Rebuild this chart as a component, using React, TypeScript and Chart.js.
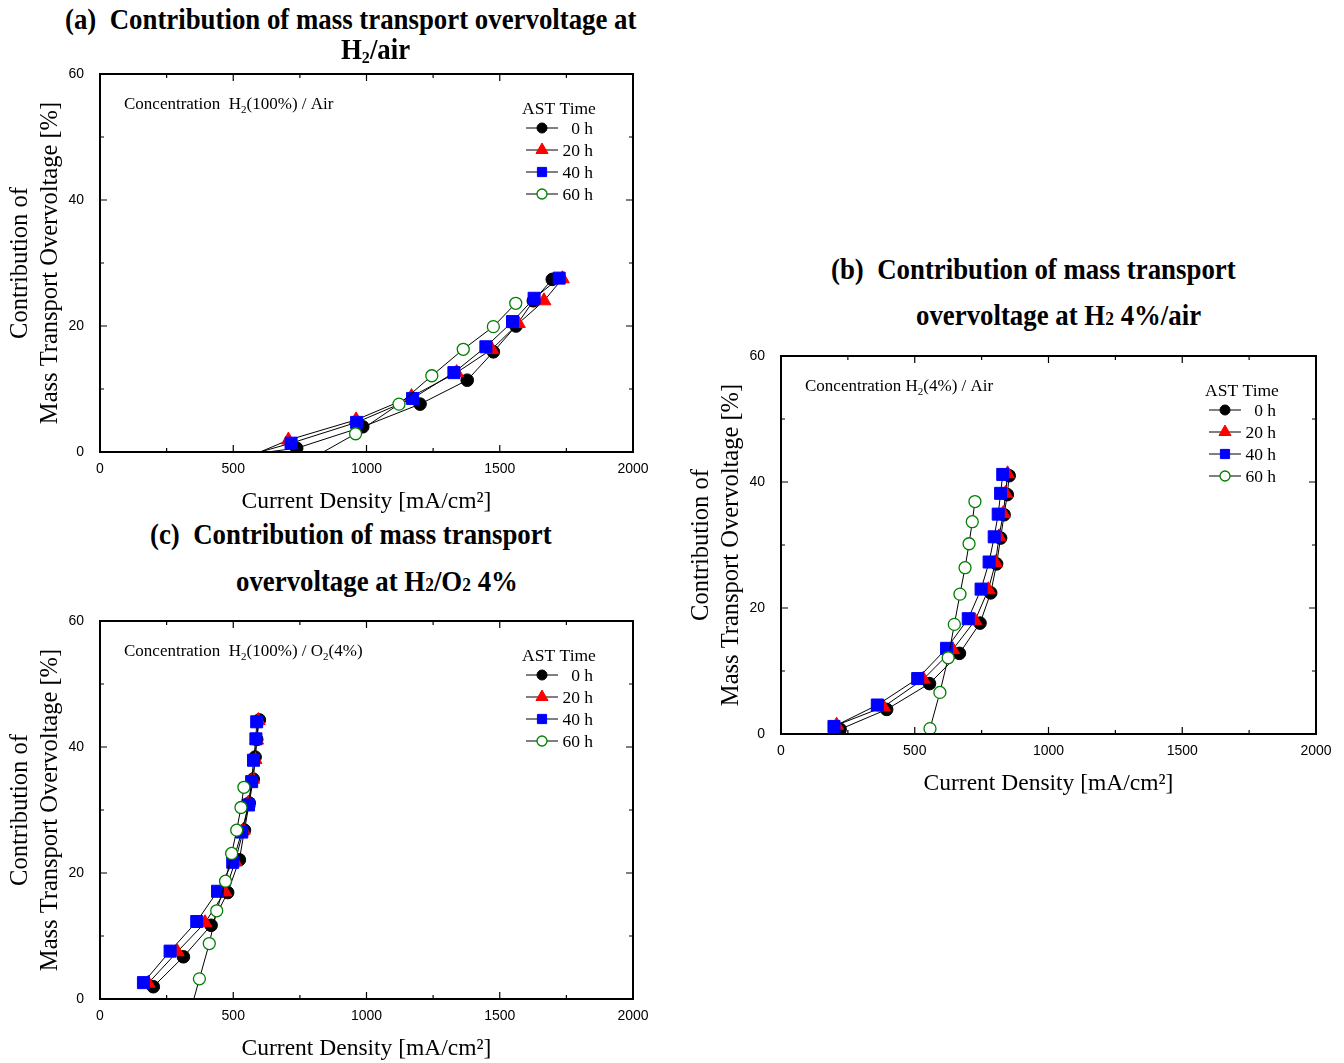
import React, { useEffect, useRef } from 'react';
import { Chart, registerables } from 'chart.js';
import { drawPoint } from 'chart.js/helpers';

Chart.register(...registerables);

// ---------- tick labels ----------
const X_TICKS = [0, 500, 1000, 1500, 2000];
const Y_TICKS = [0, 20, 40, 60];

// ---------- series names ----------
const SERIES_LABELS = ['0 h', '20 h', '40 h', '60 h'];

// ---------- panel (a): H2(100%) / Air ----------
const A_0H_X = [500, 738, 986, 1201, 1378, 1476, 1561, 1626, 1697];
const A_0H_Y = [-0.7, 0.6, 4.0, 7.6, 11.4, 15.9, 20.0, 24.0, 27.4];
const A_20H_X = [500, 707, 961, 1169, 1338, 1470, 1570, 1666, 1735];
const A_20H_Y = [-1.8, 1.9, 5.1, 8.8, 12.6, 16.3, 20.4, 24.0, 27.5];
const A_40H_X = [500, 717, 963, 1173, 1328, 1448, 1548, 1629, 1723];
const A_40H_Y = [-1.2, 1.4, 4.7, 8.5, 12.6, 16.7, 20.7, 24.4, 27.6];
const A_60H_X = [750, 959, 1122, 1245, 1363, 1476, 1560];
const A_60H_Y = [-2.1, 2.9, 7.6, 12.1, 16.3, 19.9, 23.6];

// ---------- panel (b): H2(4%) / Air ----------
const B_0H_X = [221, 395, 555, 667, 744, 784, 806, 821, 834, 846, 853];
const B_0H_Y = [0.75, 3.9, 8.0, 12.8, 17.6, 22.4, 27.0, 31.1, 34.8, 38.0, 41.0];
const B_20H_X = [208, 383, 532, 642, 725, 775, 802, 815, 831, 840, 847];
const B_20H_Y = [1.4, 4.3, 8.7, 13.4, 18.0, 22.9, 27.2, 31.3, 35.0, 38.2, 41.3];
const B_40H_X = [198, 360, 511, 619, 700, 748, 778, 797, 812, 821, 829];
const B_40H_Y = [1.2, 4.6, 8.8, 13.6, 18.3, 23.0, 27.3, 31.3, 34.9, 38.2, 41.2];
const B_60H_X = [545, 557, 594, 625, 648, 669, 688, 703, 715, 725];
const B_60H_Y = [-1.0, 0.85, 6.6, 12.1, 17.4, 22.2, 26.4, 30.2, 33.7, 36.9];

// ---------- panel (c): H2(100%) / O2(4%) ----------
const C_0H_X = [200, 313, 417, 479, 523, 542, 560, 575, 582, 588, 598];
const C_0H_Y = [1.95, 6.7, 11.7, 16.9, 22.1, 26.8, 31.1, 34.9, 38.4, 41.2, 44.3];
const C_20H_X = [181, 290, 394, 469, 507, 538, 557, 573, 582, 588, 594];
const C_20H_Y = [2.5, 7.5, 12.1, 17.0, 21.8, 26.8, 31.1, 34.9, 38.0, 41.1, 44.2];
const C_40H_X = [163, 263, 363, 441, 498, 532, 557, 569, 576, 585, 588];
const C_40H_Y = [2.6, 7.6, 12.3, 17.1, 21.7, 26.5, 30.8, 34.5, 37.9, 41.3, 44.0];
const C_60H_X = [339, 373, 410, 438, 471, 494, 513, 529, 540];
const C_60H_Y = [-2.0, 3.2, 8.8, 14.0, 18.7, 23.1, 26.8, 30.4, 33.6];

// ---------- marker styles ----------
const MARKERS = [
  { pointStyle: 'circle', radius: 6.3, legendRadius: 5, bg: '#000000', border: '#000000', bw: 1 },
  { pointStyle: 'triangle', radius: 8, legendRadius: 7, bg: '#ff0000', border: '#ff0000', bw: 1 },
  { pointStyle: 'rect', radius: 8.5, legendRadius: 6.5, bg: '#0000ff', border: '#0000ff', bw: 1 },
  { pointStyle: 'circle', radius: 6, legendRadius: 5, bg: '#ffffff', border: '#008000', bw: 1.3 },
];

const SERIF = '"Liberation Serif", "Times New Roman", serif';
const SANS = '"Liberation Sans", Arial, sans-serif';

type Seg = { text: string; sub?: boolean };

const decorPlugin = {
  id: 'decor',
  afterDraw(chart: any, _args: any, opts: any) {
    const { ctx, chartArea } = chart;
    const { left, right, top, bottom } = chartArea;
    const xs = chart.scales.x;
    const ys = chart.scales.y;
    ctx.save();
    ctx.strokeStyle = '#000';
    ctx.lineWidth = 1.2;
    const ticksOf = (scale: any) => {
      const vals = scale.ticks.map((t: any) => t.value);
      const out: { v: number; major: boolean }[] = [];
      for (let i = 0; i < vals.length; i++) {
        out.push({ v: vals[i], major: true });
        if (i < vals.length - 1) out.push({ v: (vals[i] + vals[i + 1]) / 2, major: false });
      }
      return out;
    };
    for (const t of ticksOf(xs)) {
      const len = t.major ? 7 : 4;
      const p = xs.getPixelForValue(t.v);
      ctx.beginPath();
      ctx.moveTo(p, bottom);
      ctx.lineTo(p, bottom - len);
      ctx.moveTo(p, top);
      ctx.lineTo(p, top + len);
      ctx.stroke();
    }
    for (const t of ticksOf(ys)) {
      const len = t.major ? 7 : 4;
      const p = ys.getPixelForValue(t.v);
      ctx.beginPath();
      ctx.moveTo(left, p);
      ctx.lineTo(left + len, p);
      ctx.moveTo(right, p);
      ctx.lineTo(right - len, p);
      ctx.stroke();
    }
    ctx.lineWidth = 2;
    ctx.strokeRect(left, top, right - left, bottom - top);

    // annotation
    ctx.fillStyle = '#000';
    ctx.textBaseline = 'alphabetic';
    ctx.textAlign = 'left';
    const size = 17;
    let cx = left + 24;
    const by = top + 35;
    for (const s of opts.annotation as Seg[]) {
      const fs = s.sub ? 11 : size;
      ctx.font = `${fs}px ${SERIF}`;
      ctx.fillText(s.text, cx, s.sub ? by + 4 : by);
      cx += ctx.measureText(s.text).width;
    }

    // legend
    ctx.font = `17.5px ${SERIF}`;
    ctx.textAlign = 'center';
    ctx.fillText('AST Time', right - 74, top + 40);
    for (let i = 0; i < SERIES_LABELS.length; i++) {
      const y = top + opts.legendTop + i * 22;
      ctx.strokeStyle = '#000';
      ctx.lineWidth = 1;
      ctx.beginPath();
      ctx.moveTo(right - 107, y);
      ctx.lineTo(right - 75, y);
      ctx.stroke();
      const m = MARKERS[i];
      ctx.fillStyle = m.bg;
      ctx.strokeStyle = m.border;
      ctx.lineWidth = m.bw;
      drawPoint(ctx, { pointStyle: m.pointStyle, radius: m.legendRadius, borderWidth: m.bw, rotation: 0 } as any, right - 91, y);
      ctx.fillStyle = '#000';
      ctx.textAlign = 'right';
      ctx.font = `17.5px ${SERIF}`;
      ctx.fillText(SERIES_LABELS[i], right - 40, y + 6);
    }
    ctx.restore();
  },
};

type PanelCfg = {
  plotLeft: number;
  plotTop: number;
  plotW: number;
  plotH: number;
  padRight: number;
  series: { x: number[]; y: number[] }[];
  annotation: Seg[];
  legendTop: number;
};

const PANELS: PanelCfg[] = [
  {
    plotLeft: 100, plotTop: 74, plotW: 533, plotH: 378, padRight: 27,
    series: [
      { x: A_0H_X, y: A_0H_Y }, { x: A_20H_X, y: A_20H_Y },
      { x: A_40H_X, y: A_40H_Y }, { x: A_60H_X, y: A_60H_Y },
    ],
    annotation: [{ text: 'Concentration  H' }, { text: '2', sub: true }, { text: '(100%) / Air' }],
    legendTop: 54,
  },
  {
    plotLeft: 781, plotTop: 356, plotW: 535, plotH: 378, padRight: 25,
    series: [
      { x: B_0H_X, y: B_0H_Y }, { x: B_20H_X, y: B_20H_Y },
      { x: B_40H_X, y: B_40H_Y }, { x: B_60H_X, y: B_60H_Y },
    ],
    annotation: [{ text: 'Concentration H' }, { text: '2', sub: true }, { text: '(4%) / Air' }],
    legendTop: 54,
  },
  {
    plotLeft: 100, plotTop: 621, plotW: 533, plotH: 378, padRight: 27,
    series: [
      { x: C_0H_X, y: C_0H_Y }, { x: C_20H_X, y: C_20H_Y },
      { x: C_40H_X, y: C_40H_Y }, { x: C_60H_X, y: C_60H_Y },
    ],
    annotation: [
      { text: 'Concentration  H' }, { text: '2', sub: true },
      { text: '(100%) / O' }, { text: '2', sub: true }, { text: '(4%)' },
    ],
    legendTop: 54,
  },
];

const Y_AXIS_W = 100;
const X_AXIS_H = 62;
const PAD_TOP = 20;

function Panel({ cfg }: { cfg: PanelCfg }) {
  const ref = useRef<HTMLCanvasElement>(null);
  const cw = Y_AXIS_W + cfg.plotW + cfg.padRight;
  const ch = PAD_TOP + cfg.plotH + X_AXIS_H;
  useEffect(() => {
    const datasets = cfg.series.map((s, i) => {
      const m = MARKERS[i];
      return {
        label: SERIES_LABELS[i],
        data: s.x.map((x, j) => ({ x, y: s.y[j] })),
        showLine: true,
        borderColor: '#000000',
        borderWidth: 1,
        tension: 0,
        pointStyle: m.pointStyle,
        pointRadius: (c: any) => (c.raw && c.raw.y < 0 ? 0 : m.radius),
        pointBackgroundColor: m.bg,
        pointBorderColor: m.border,
        pointBorderWidth: m.bw,
        order: 4 - i,
      };
    });
    const chart = new Chart(ref.current as HTMLCanvasElement, {
      type: 'scatter',
      data: { datasets } as any,
      options: {
        animation: false,
        responsive: false,
        devicePixelRatio: 1,
        layout: { padding: { top: PAD_TOP, right: cfg.padRight, left: 0, bottom: 0 } },
        plugins: {
          legend: { display: false },
          tooltip: { enabled: false },
          title: { display: false },
          decor: { annotation: cfg.annotation, legendTop: cfg.legendTop },
        } as any,
        scales: {
          x: {
            type: 'linear',
            min: 0,
            max: 2000,
            afterBuildTicks: (scale: any) => { scale.ticks = X_TICKS.map((v) => ({ value: v })); },
            afterFit: (scale: any) => { scale.height = X_AXIS_H; },
            grid: { display: false },
            border: { display: false },
            ticks: {
              color: '#000', padding: 1, font: { family: SANS, size: 14 }, maxRotation: 0,
              callback: (v: any) => String(v),
            },
            title: {
              display: true,
              text: 'Current Density [mA/cm²]',
              color: '#000',
              font: { family: SERIF, size: 23.5, lineHeight: 1.2 },
              padding: { top: 0, bottom: -2 },
            },
          },
          y: {
            type: 'linear',
            min: 0,
            max: 60,
            afterBuildTicks: (scale: any) => { scale.ticks = Y_TICKS.map((v) => ({ value: v })); },
            afterFit: (scale: any) => { scale.width = Y_AXIS_W; },
            grid: { display: false },
            border: { display: false },
            ticks: {
              color: '#000', padding: 8, font: { family: SANS, size: 14 },
              callback: (v: any) => String(v),
            },
            title: {
              display: true,
              text: ['Contribution of', 'Mass Transport Overvoltage [%]'],
              color: '#000',
              font: { family: SERIF, size: 24.5, lineHeight: 1.25 },
              padding: { top: 5, bottom: 0 },
            },
          },
        },
      } as any,
      plugins: [decorPlugin as any],
    });
    return () => chart.destroy();
  }, [cfg]);
  return (
    <canvas
      ref={ref}
      width={cw}
      height={ch}
      style={{
        position: 'absolute',
        left: cfg.plotLeft - Y_AXIS_W,
        top: cfg.plotTop - PAD_TOP,
        width: cw,
        height: ch,
      }}
    />
  );
}

const titleStyle: React.CSSProperties = {
  position: 'absolute',
  fontFamily: SERIF,
  fontWeight: 'bold',
  fontSize: 29,
  lineHeight: '29px',
  whiteSpace: 'nowrap',
  transform: 'scaleX(0.925)',
  transformOrigin: 'left top',
  color: '#000',
  zIndex: 2,
};

const subLow: React.CSSProperties = { fontSize: '0.6em', position: 'relative', top: '0.25em' };
const subBase: React.CSSProperties = { fontSize: '0.65em', position: 'relative', top: '0.02em' };

export default function App() {
  return (
    <div
      style={{
        position: 'fixed',
        left: 0,
        top: 0,
        width: 1344,
        height: 1063,
        overflow: 'hidden',
        background: '#ffffff',
      }}
    >
      <div style={{ ...titleStyle, left: 65, top: 5 }}>(a)&nbsp; Contribution of mass transport overvoltage at</div>
      <div style={{ ...titleStyle, left: 341, top: 35 }}>H<span style={subLow}>2</span>/air</div>

      <div style={{ ...titleStyle, left: 831, top: 255 }}>(b)&nbsp; Contribution of mass transport</div>
      <div style={{ ...titleStyle, left: 916, top: 301 }}>overvoltage at H<span style={subBase}>2</span> 4%/air</div>

      <div style={{ ...titleStyle, left: 150, top: 520 }}>(c)&nbsp; Contribution of mass transport</div>
      <div style={{ ...titleStyle, left: 236, top: 567 }}>overvoltage at H<span style={subBase}>2</span>/O<span style={subBase}>2</span> 4%</div>

      {PANELS.map((p, i) => (
        <Panel key={i} cfg={p} />
      ))}
    </div>
  );
}
